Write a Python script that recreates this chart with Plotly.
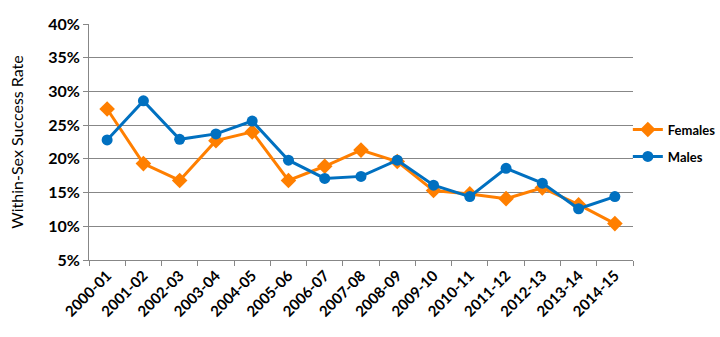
import plotly.graph_objects as go

years = ["2000-01", "2001-02", "2002-03", "2003-04", "2004-05", "2005-06", "2006-07",
         "2007-08", "2008-09", "2009-10", "2010-11", "2011-12", "2012-13", "2013-14", "2014-15"]
females = [27.4, 19.3, 16.8, 22.7, 24.0, 16.8, 18.9, 21.3, 19.6, 15.3, 14.8, 14.1, 15.7, 13.2, 10.4]
males = [22.8, 28.6, 22.9, 23.7, 25.6, 19.8, 17.1, 17.4, 19.8, 16.1, 14.4, 18.6, 16.4, 12.6, 14.4]
y_ticks = [5, 10, 15, 20, 25, 30, 35, 40]

ORANGE = "#FF7F00"
BLUE = "#0070C0"
GRID = "#878787"
FONT = "Lato"

fig = go.Figure()
fig.add_trace(go.Scatter(
    x=years, y=[v / 100 for v in females], name="Females", mode="lines+markers",
    line=dict(color=ORANGE, width=3), legendgroup="f",
    marker=dict(symbol="diamond", size=12, color=ORANGE),
))
fig.add_trace(go.Scatter(
    x=years, y=[v / 100 for v in males], name="Males", mode="lines+markers",
    line=dict(color=BLUE, width=3), legendgroup="m",
    marker=dict(symbol="circle", size=11, color=BLUE),
))

fig.update_layout(
    width=720, height=337,
    margin=dict(l=89, r=87, t=24, b=77, autoexpand=False),
    plot_bgcolor="white", paper_bgcolor="white",
    font=dict(family=FONT, color="black"),
    showlegend=True,
    legend=dict(xref="container", yref="container", x=0.872, y=0.66,
                xanchor="left", yanchor="top", itemwidth=30,
                font=dict(family=FONT, size=13, color="black", weight="bold"),
                tracegroupgap=7, bgcolor="rgba(0,0,0,0)"),
)
fig.update_xaxes(
    type="category", showgrid=False, showline=True, linecolor=GRID, linewidth=1,
    ticks="outside", ticklen=5, tickcolor=GRID, tickson="boundaries",
    tickangle=-45, tickfont=dict(family=FONT, size=15, weight="bold"),
    range=[-0.5, len(years) - 0.5],
)
fig.update_yaxes(
    range=[0.05, 0.40], tickvals=[v / 100 for v in y_ticks],
    ticktext=[f"{v}%" for v in y_ticks],
    showgrid=True, gridcolor=GRID, gridwidth=1, zeroline=False,
    showline=True, linecolor=GRID, linewidth=1,
    ticks="outside", ticklen=5, tickcolor=GRID,
    tickfont=dict(family=FONT, size=16, weight="bold"),
    title=dict(text="Within-Sex Success Rate", font=dict(family=FONT, size=16), standoff=20),
)

fig.write_html("out.html")
